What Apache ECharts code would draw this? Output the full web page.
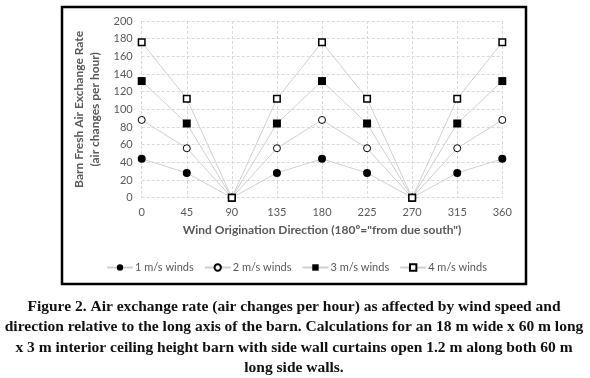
<!DOCTYPE html>
<html>
<head>
<meta charset="utf-8">
<script src="https://cdn.jsdelivr.net/npm/echarts@6/dist/echarts.min.js"></script>
<style>html,body{margin:0;padding:0;background:#fff;}#c{width:590px;height:378px;}</style>
</head>
<body>
<div id="c"></div>
<script>
const directions = [0, 45, 90, 135, 180, 225, 270, 315, 360];
const wind1 = [44, 28, 0, 28, 44, 28, 0, 28, 44];
const wind2 = [88, 56, 0, 56, 88, 56, 0, 56, 88];
const wind3 = [132, 84, 0, 84, 132, 84, 0, 84, 132];
const wind4 = [176, 112, 0, 112, 176, 112, 0, 112, 176];
const seriesNames = ['1 m/s winds', '2 m/s winds', '3 m/s winds', '4 m/s winds'];
const yAxisTitle = 'Barn Fresh Air Exchange Rate\n(air changes per hour)';
const xAxisTitle = 'Wind Origination Direction (180º="from due south")';
const captionLines = [
  'Figure 2. Air exchange rate (air changes per hour) as affected by wind speed and',
  'direction relative to the long axis of the barn. Calculations for an 18 m wide x 60 m long',
  'x 3 m interior ceiling height barn with side wall curtains open 1.2 m along both 60 m',
  'long side walls.'
];

const FONT = 'Lato';
const grey = '#595959';
const pair = v => directions.map((d, i) => [d, v[i]]);

const styles = [
  {symbol: 'circle', color: '#000', border: '#000', bw: 0, size: 8},
  {symbol: 'circle', color: '#fff', border: '#000', bw: 1, size: 7},
  {symbol: 'rect', color: '#000', border: '#000', bw: 0, size: 8},
  {symbol: 'rect', color: '#fff', border: '#000', bw: 1.5, size: 6.5}
];
const data = [wind1, wind2, wind3, wind4];

const chart = echarts.init(document.getElementById('c'), null, {renderer: 'canvas'});
chart.setOption({
  animation: false,
  backgroundColor: '#fff',
  grid: {left: 141.7, right: 87.7, top: 21, bottom: 180.3, containLabel: false},
  xAxis: {
    type: 'value', min: 0, max: 360, interval: 45,
    name: xAxisTitle, nameLocation: 'middle', nameGap: 26,
    nameTextStyle: {fontFamily: FONT, fontWeight: 'bold', fontSize: 12, color: grey},
    axisLine: {show: false}, axisTick: {show: false},
    axisLabel: {fontFamily: FONT, fontSize: 11, color: grey, margin: 9},
    splitLine: {show: true, lineStyle: {color: '#d9d9d9', type: [3, 2], width: 1}}
  },
  yAxis: {
    type: 'value', min: 0, max: 200, interval: 20,
    name: yAxisTitle, nameLocation: 'middle', nameGap: 29, nameRotate: 90,
    nameTextStyle: {fontFamily: FONT, fontWeight: 'bold', fontSize: 12, color: grey, lineHeight: 16, align: 'center'},
    axisLine: {show: false}, axisTick: {show: false},
    axisLabel: {fontFamily: FONT, fontSize: 11, color: grey, margin: 9},
    splitLine: {show: true, lineStyle: {color: '#d9d9d9', type: [3, 2], width: 1}}
  },
  legend: {
    left: 101, top: 257, itemWidth: 26, itemHeight: 8, itemGap: 10,
    textStyle: {fontFamily: FONT, fontSize: 11, color: grey, padding: [0, 0, 0, -3]},
    data: seriesNames
  },
  series: data.map((v, i) => ({
    name: seriesNames[i], type: 'line', data: pair(v),
    symbol: styles[i].symbol, symbolSize: styles[i].size, showSymbol: true,
    lineStyle: {color: '#d0d0d0', width: 1},
    itemStyle: {color: styles[i].color, borderColor: styles[i].border, borderWidth: styles[i].bw},
    emphasis: {disabled: true}, z: 2 + i
  })),
  graphic: [
    {type: 'rect', shape: {x: 62, y: 7, width: 464, height: 277},
     style: {fill: null, stroke: '#000', lineWidth: 2.5}, silent: true, z: 100}
  ].concat(captionLines.map((t, i) => ({
    type: 'text', x: 294, y: 307 + i * 20.3,
    style: {text: t, fontFamily: '"Liberation Serif", serif', fontWeight: 'bold', fontSize: 15.5,
            fill: '#111', align: 'center', verticalAlign: 'middle'},
    silent: true
  })))
});
</script>
</body>
</html>
